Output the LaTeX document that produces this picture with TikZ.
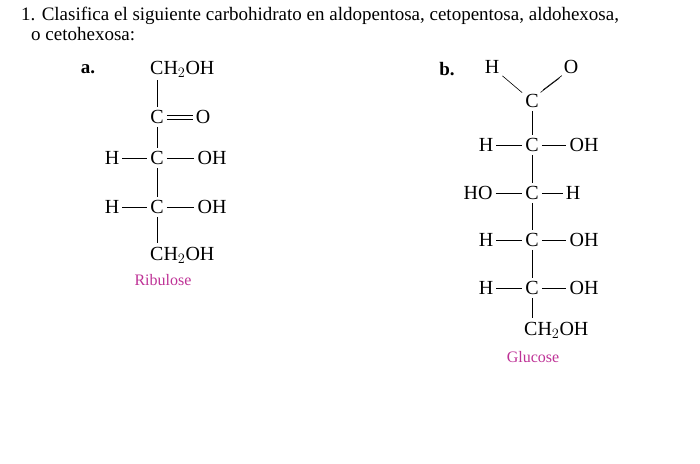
\documentclass[tikz,border=0pt]{standalone}
\usepackage{fontspec}
\setmainfont{Liberation Serif}
\begin{document}
\begin{tikzpicture}[x=1pt,y=-1pt,
 t/.style={inner sep=3pt,font=\fontsize{20}{22}\selectfont},
 lab/.style={font=\fontsize{16}{18}\selectfont,text={rgb,255:red,190;green,50;blue,150}},
 bond/.style={line width=0.6pt}]
\useasboundingbox (0,0) rectangle (700,463);
\node[inner sep=1pt,anchor=west,font=\fontsize{19}{21}\selectfont] (q1) at (20,16) {1. Clasifica el siguiente carbohidrato en aldopentosa, cetopentosa, aldohexosa,};
\node[inner sep=1pt,anchor=west,font=\fontsize{19}{21}\selectfont] (q2) at (30,34) {o cetohexosa:};
\node[t,font=\bfseries\fontsize{19}{21}\selectfont] (la) at (88,69) {a.};
\node[t,font=\bfseries\fontsize{19}{21}\selectfont] (lb) at (447,69) {b.};
% a
\node[t,anchor=west,inner sep=0pt] (a1) at (150,69) {CH$_2$OH};
\node[t] (a2) at (157,117) {C};
\node[t] (a2o) at (203,117) {O};
\node[t] (a3) at (157,158) {C};
\node[t] (a3h) at (112,158) {H};
\node[t] (a3r) at (212,158) {OH};
\node[t] (a4) at (157,207) {C};
\node[t] (a4h) at (112,207) {H};
\node[t] (a4r) at (212,207) {OH};
\node[t,anchor=west,inner sep=0pt] (a5) at (150,255) {CH$_2$OH};
\node[lab] (ra) at (163,280) {Ribulose};
\draw[bond] (157,80) -- (a2);
\draw[bond] ([yshift=-1.8]a2.east) -- ([yshift=-1.8]a2o.west);
\draw[bond] ([yshift=1.8]a2.east) -- ([yshift=1.8]a2o.west);
\draw[bond] (a2) -- (a3);
\draw[bond] (a3h) -- (a3) -- (a3r);
\draw[bond] (a3) -- (a4);
\draw[bond] (a4h) -- (a4) -- (a4r);
\draw[bond] (a4) -- (157,243);
% b
\node[t] (bh) at (492,67) {H};
\node[t] (bo) at (571,67) {O};
\node[t] (b1) at (532,101) {C};
\node[t] (b2) at (532,145) {C};
\node[t] (b2h) at (486,145) {H};
\node[t] (b2r) at (584,145) {OH};
\node[t] (b3) at (532,193) {C};
\node[t] (b3h) at (478,193) {HO};
\node[t] (b3r) at (573,193) {H};
\node[t] (b4) at (532,240) {C};
\node[t] (b4h) at (486,240) {H};
\node[t] (b4r) at (584,240) {OH};
\node[t] (b5) at (532,288) {C};
\node[t] (b5h) at (486,288) {H};
\node[t] (b5r) at (584,288) {OH};
\node[t,anchor=west,inner sep=0pt] (b6) at (524,330) {CH$_2$OH};
\node[lab] (gl) at (533,357) {Glucose};
\draw[bond] (bh) -- (b1);
\draw[bond] ([xshift=-1.3,yshift=-1.3]b1.north east) -- ([xshift=-1.3,yshift=-1.3]bo.south west);
\draw[bond] ([xshift=1.3,yshift=1.3]b1.north east) -- ([xshift=1.3,yshift=1.3]bo.south west);
\draw[bond] (b1) -- (b2);
\draw[bond] (b2h) -- (b2) -- (b2r);
\draw[bond] (b2) -- (b3);
\draw[bond] (b3h) -- (b3) -- (b3r);
\draw[bond] (b3) -- (b4);
\draw[bond] (b4h) -- (b4) -- (b4r);
\draw[bond] (b4) -- (b5);
\draw[bond] (b5h) -- (b5) -- (b5r);
\draw[bond] (b5) -- (532,318);
\end{tikzpicture}
\end{document}
